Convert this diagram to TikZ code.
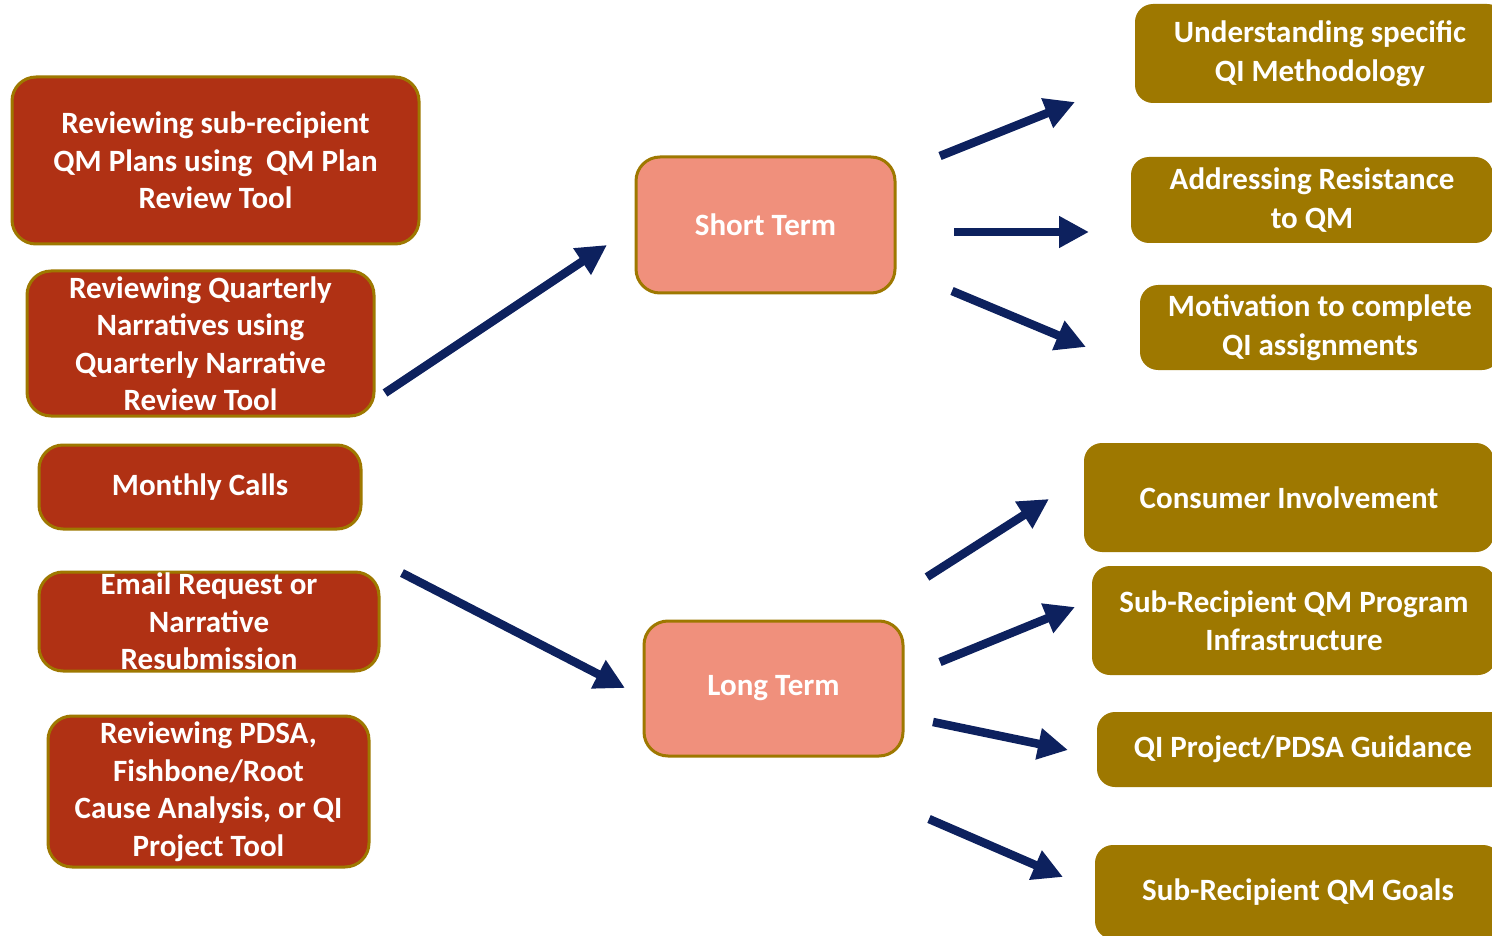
\documentclass[tikz,border=0pt]{standalone}
\usepackage{fontspec}
\setmainfont{Carlito}
\usetikzlibrary{arrows.meta}
\definecolor{boxred}{HTML}{B03114}
\definecolor{olive}{HTML}{9E7800}
\definecolor{pinkbox}{HTML}{F0907C}
\definecolor{navy}{HTML}{0D215E}
\tikzset{
  redbox/.style={draw=olive, line width=3pt, fill=boxred, rounded corners=24pt, inner sep=0pt, align=center, text=white, font=\fontsize{31}{37.5}\selectfont\bfseries},
  pinkbox/.style={draw=olive, line width=3pt, fill=pinkbox, rounded corners=24pt, inner sep=0pt, align=center, text=white, font=\fontsize{31}{37.5}\selectfont\bfseries},
  olivebox/.style={fill=olive, rounded corners=18pt, inner sep=0pt, align=center, text=white, font=\fontsize{31}{38.5}\selectfont\bfseries},
  bigarrow/.style={draw=navy, line width=8.5pt, -{Triangle[length=30pt,width=30pt]}},
}
\begin{document}
\begin{tikzpicture}[x=1pt,y=-1pt]
\useasboundingbox (0,0) rectangle (1492,936);
\clip (0,0) rectangle (1492,936);
\fill[white] (0,0) rectangle (1492,936);
% left column
\node[redbox, minimum width=407pt, minimum height=167pt] (l1) at (215.5,160.5) {Reviewing sub-recipient\\QM Plans using\ \ QM Plan\\Review Tool};
\node[redbox, minimum width=347pt, minimum height=145pt] (l2) at (200.5,343.5) {Reviewing Quarterly\\Narratives using\\Quarterly Narrative\\Review Tool};
\node[redbox, minimum width=322pt, minimum height=84pt] (l3) at (200,487) {Monthly Calls};
\node[redbox, minimum width=340pt, minimum height=99pt] (l4) at (209,621.5) {Email Request or\\Narrative\\Resubmission};
\node[redbox, minimum width=321pt, minimum height=151pt] (l5) at (208.5,791.5) {Reviewing PDSA,\\Fishbone/Root\\Cause Analysis, or QI\\Project Tool};
% middle
\node[pinkbox, minimum width=259pt, minimum height=136pt] (st) at (765.5,225) {Short Term};
\node[pinkbox, minimum width=259pt, minimum height=135pt] (lt) at (773.5,688.5) {Long Term};
% right
\node[olivebox, minimum width=370pt, minimum height=99pt] (r1) at (1320,53.5) {Understanding specific\\QI Methodology};
\node[olivebox, minimum width=362pt, minimum height=86pt] (r2) at (1312,200) {Addressing Resistance\\to QM};
\node[olivebox, minimum width=360pt, minimum height=85pt] (r3) at (1320,327.5) {Motivation to complete\\QI assignments};
\node[olivebox, minimum width=410pt, minimum height=109pt] (r4) at (1289,497.5) {Consumer Involvement};
\node[olivebox, minimum width=404pt, minimum height=109pt] (r5) at (1294,620.5) {Sub-Recipient\ QM Program\\Infrastructure};
\node[olivebox, minimum width=412pt, minimum height=75pt] (r6) at (1303,749.5) {QI Project/PDSA Guidance};
\node[olivebox, minimum width=406pt, minimum height=94pt] (r7) at (1298,892) {Sub-Recipient\ QM Goals};
% arrow end points
\coordinate (a1s) at (385,393);  \coordinate (a1e) at (607,245);
\coordinate (a2s) at (402,573);  \coordinate (a2e) at (625,688);
\coordinate (a3s) at (940,156);  \coordinate (a3e) at (1075,102);
\coordinate (a4s) at (954,232);  \coordinate (a4e) at (1089,232);
\coordinate (a5s) at (952,291);  \coordinate (a5e) at (1086,347);
\coordinate (a6s) at (927,577);  \coordinate (a6e) at (1049,499);
\coordinate (a7s) at (940,662);  \coordinate (a7e) at (1075,607);
\coordinate (a8s) at (933,722);  \coordinate (a8e) at (1068,750);
\coordinate (a9s) at (929,819);  \coordinate (a9e) at (1063,877);
\draw[bigarrow] (a1s) -- (a1e);
\draw[bigarrow] (a2s) -- (a2e);
\draw[bigarrow] (a3s) -- (a3e);
\draw[bigarrow] (a4s) -- (a4e);
\draw[bigarrow] (a5s) -- (a5e);
\draw[bigarrow] (a6s) -- (a6e);
\draw[bigarrow] (a7s) -- (a7e);
\draw[bigarrow] (a8s) -- (a8e);
\draw[bigarrow] (a9s) -- (a9e);
\end{tikzpicture}
\end{document}
